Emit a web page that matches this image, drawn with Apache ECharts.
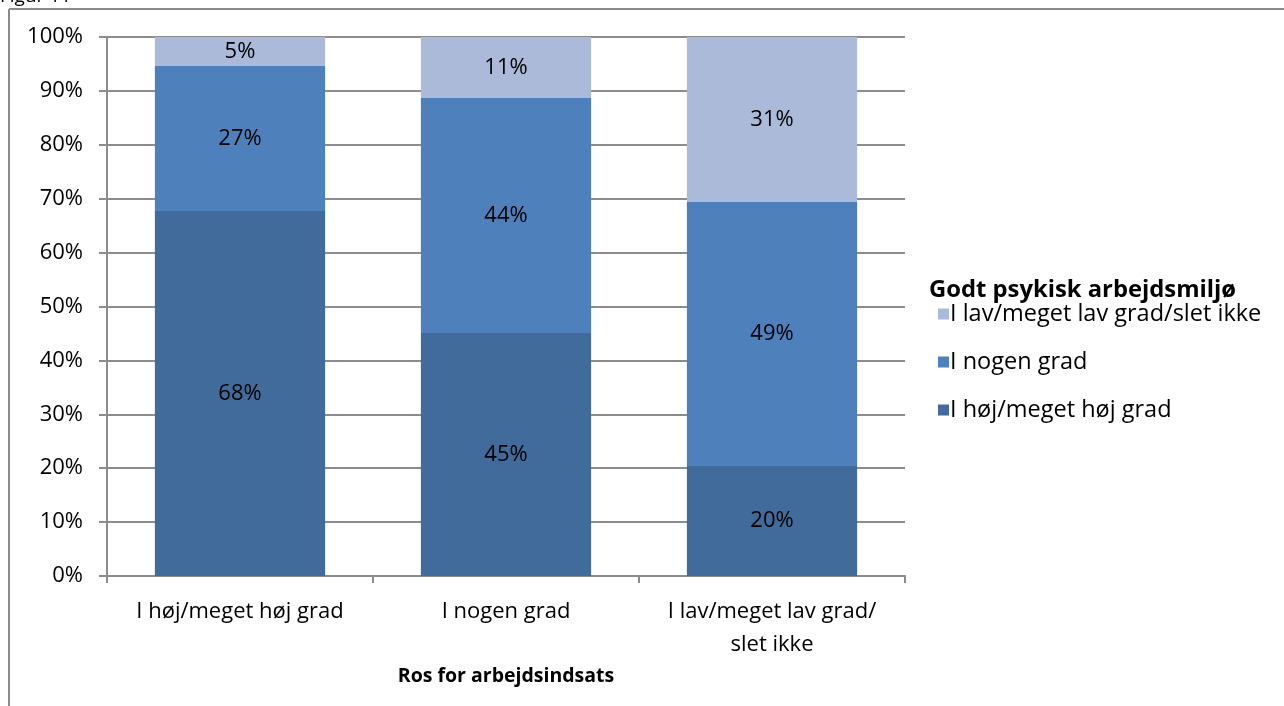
<!DOCTYPE html>
<html>
<head>
<meta charset="utf-8">
<script src="https://cdn.jsdelivr.net/npm/echarts@6/dist/echarts.min.js"></script>
<style>
html,body{margin:0;padding:0;background:#fff;}
#c{width:1284px;height:706px;}
</style>
</head>
<body>
<div id="c"></div>
<script>
const categories = ['I høj/meget høj grad', 'I nogen grad', 'I lav/meget lav grad/\nslet ikke'];
const seriesNames = ['I høj/meget høj grad', 'I nogen grad', 'I lav/meget lav grad/slet ikke'];
const highValues = [67.7, 45.1, 20.4];
const someValues = [26.9, 43.6, 49.0];
const lowValues = [5.4, 11.3, 30.6];
const yTicks = [0, 10, 20, 30, 40, 50, 60, 70, 80, 90, 100];
const colors = ['#416B9B', '#4E80BC', '#AABAD8'];
const FONT = '"Open Sans", Lato, sans-serif';

const chart = echarts.init(document.getElementById('c'), null, {renderer: 'canvas'});
const dataSets = [highValues, someValues, lowValues];
const series = seriesNames.map((n, i) => ({
  name: n,
  type: 'bar',
  stack: 'total',
  barWidth: '64%',
  data: dataSets[i],
  itemStyle: {color: colors[i]},
  label: {
    show: true,
    position: 'inside',
    color: '#000',
    fontFamily: FONT,
    fontSize: 22,
    formatter: p => Math.round(p.value) + '%'
  }
}));

chart.setOption({
  animation: false,
  textStyle: {fontFamily: FONT},
  grid: {left: 107, right: 379, top: 37, bottom: 130},
  legend: {
    orient: 'vertical',
    left: 933,
    top: 296,
    itemWidth: 11,
    itemHeight: 11,
    itemGap: 22,
    icon: 'rect',
    data: [seriesNames[2], seriesNames[1], seriesNames[0]],
    textStyle: {fontFamily: FONT, fontSize: 23.5, lineHeight: 26, color: '#000', padding: [0,0,0,-4]}
  },
  graphic: [
    {type: 'text', left: 929, top: 278, style: {text: 'Godt psykisk arbejdsmiljø', font: 'bold 23.8px ' + FONT, fill: '#000'}},
    {type: 'text', left: 0, top: -13, style: {text: 'Figur 11', font: '19px ' + FONT, fill: '#000'}},
    {type: 'line', shape: {x1: 9, y1: 9, x2: 1284, y2: 9}, style: {stroke: '#8a8a8a', lineWidth: 2}},
    {type: 'line', shape: {x1: 9, y1: 9, x2: 9, y2: 706}, style: {stroke: '#8a8a8a', lineWidth: 2}}
  ],
  xAxis: {
    type: 'category',
    data: categories,
    name: 'Ros for arbejdsindsats',
    nameLocation: 'middle',
    nameGap: 90,
    nameTextStyle: {fontFamily: FONT, fontSize: 19.5, fontWeight: 'bold', color: '#000'},
    axisLine: {lineStyle: {color: '#8c8c8c', width: 2}},
    axisTick: {show: true, length: 7, alignWithLabel: false, lineStyle: {color: '#8c8c8c', width: 2}},
    axisLabel: {fontFamily: FONT, fontSize: 22, color: '#000', margin: 19, lineHeight: 33, interval: 0}
  },
  yAxis: {
    type: 'value',
    min: 0,
    max: 100,
    interval: 10,
    axisLine: {show: true, lineStyle: {color: '#8c8c8c', width: 2}},
    axisTick: {show: true, length: 8, lineStyle: {color: '#8c8c8c', width: 2}},
    splitLine: {lineStyle: {color: '#8c8c8c', width: 2}},
    axisLabel: {fontFamily: FONT, fontSize: 22, color: '#000', margin: 24,
      formatter: v => yTicks.includes(v) ? v + '%' : ''}
  },
  series: series
});
</script>
</body>
</html>
